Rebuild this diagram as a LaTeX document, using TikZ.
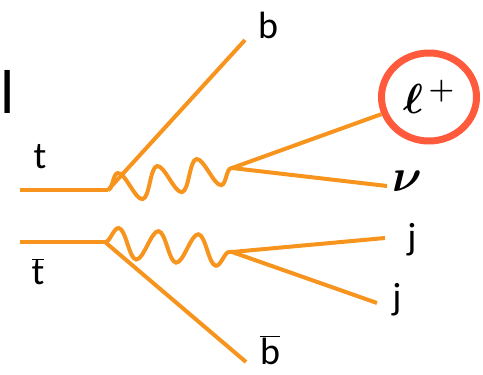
\documentclass[tikz,border=0pt]{standalone}
\usepackage{fix-cm}
\usepackage{fontspec}
\setmainfont{Carlito}
\usetikzlibrary{decorations.pathmorphing,shapes.geometric}
\definecolor{quark}{HTML}{F7941D}
\definecolor{lepring}{HTML}{FF5A3C}
\tikzset{
  fermion/.style={draw=quark,line width=4pt},
  boson/.style={draw=quark,line width=4pt,decorate,
    decoration={snake,segment length=40pt,amplitude=15pt}},
  lbl/.style={font=\fontsize{38}{44}\selectfont,inner sep=0pt},
  mlbl/.style={font=\fontsize{46}{52}\selectfont\boldmath,inner sep=0pt}
}

\begin{document}
\begin{tikzpicture}[x=1pt,y=-1pt]
  \useasboundingbox (0,0) rectangle (483,375);
  % top leg: t -> b W+
  \coordinate (tin) at (20,190);
  \coordinate (vt) at (108,190);
  \coordinate (wt) at (232,168);
  \coordinate (bout) at (245,40);
  \coordinate (nuout) at (387,186);
  % bottom leg: tbar -> bbar W-
  \coordinate (tbin) at (20,242);
  \coordinate (vb) at (105,242);
  \coordinate (wb) at (232,252);
  \coordinate (bbout) at (246,362);
  \coordinate (jaout) at (385,238);
  \coordinate (jbout) at (377,303);

  \node[lbl] (lbar) at (8,92) {\fontsize{62}{70}\selectfont l};
  \node[lbl] (tlab) at (40,157) {t};
  \node[lbl] (blab) at (268,25) {b};
  \node[lbl] (tblab) at (38,272) {$\overline{\mbox{t}}$};
  \node[lbl] (bblab) at (270,350) {$\overline{\mbox{b}}$};
  \node[lbl] (jalab) at (412,240) {j};
  \node[lbl] (jblab) at (397,300) {j};
  \node[mlbl] (nulab) at (407,181) {$\nu$};
  \node[draw=lepring,line width=7pt,ellipse,minimum width=95pt,
    minimum height=88pt,inner sep=0pt] (lep) at (429,97) {};
  \node[mlbl,font=\fontsize{42}{48}\selectfont\boldmath] (leplab) at (lep) {$\ell^{\,+}$};

  \draw[fermion] (tin) -- (vt);
  \draw[fermion] (vt) -- (bout);
  \draw[boson] (vt) -- (wt);
  \draw[fermion] (wt) -- (lep);
  \draw[fermion] (wt) -- (nuout);

  \draw[fermion] (tbin) -- (vb);
  \draw[fermion] (vb) -- (bbout);
  \draw[boson] (vb) -- (wb);
  \draw[fermion] (wb) -- (jaout);
  \draw[fermion] (wb) -- (jbout);
\end{tikzpicture}
\end{document}
